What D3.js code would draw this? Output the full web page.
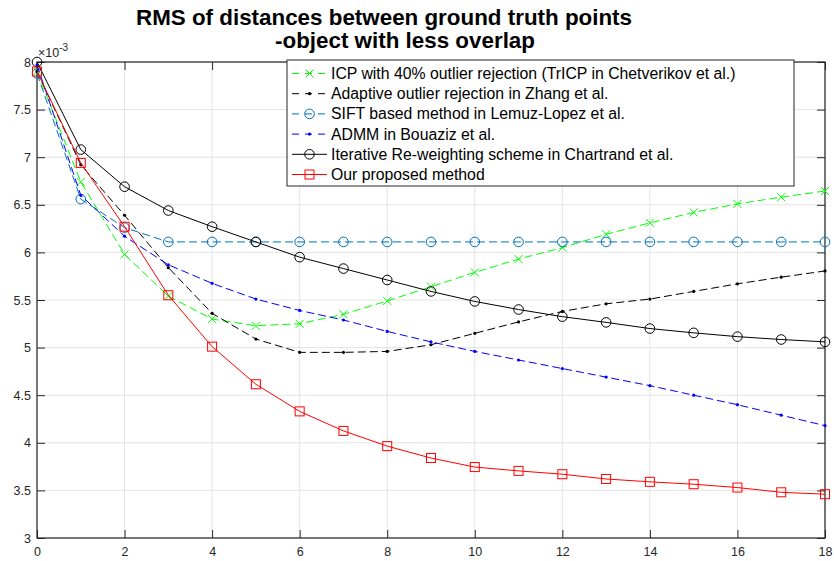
<!DOCTYPE html>
<html>
<head>
<meta charset="utf-8">
<script src="https://cdn.jsdelivr.net/npm/d3@7"></script>
<style>
  html, body { margin: 0; padding: 0; background: #fff; }
  svg { display: block; }
  text { font-family: "Liberation Sans", Arial, Helvetica, sans-serif; }
</style>
</head>
<body>
<svg id="chart" width="834" height="561"></svg>
<script>
// Iteration index on the x axis
const iterations = d3.range(0, 19);

// RMS values (×10^-3) per iteration for each method
const icpTrimmed   = [7.90, 6.74, 5.98, 5.54, 5.30, 5.23, 5.25, 5.35, 5.49, 5.64, 5.79, 5.93, 6.05, 6.19, 6.31, 6.42, 6.51, 6.58, 6.645];
const zhangAdaptive = [7.90, 6.92, 6.39, 5.84, 5.36, 5.09, 4.95, 4.95, 4.96, 5.03, 5.15, 5.27, 5.38, 5.46, 5.51, 5.59, 5.67, 5.74, 5.805];
const siftLemuz    = [7.88, 6.56, 6.26, 6.11, 6.11, 6.11, 6.11, 6.11, 6.11, 6.11, 6.11, 6.11, 6.11, 6.11, 6.11, 6.11, 6.11, 6.11, 6.11];
const admmBouaziz  = [7.97, 6.60, 6.17, 5.87, 5.675, 5.51, 5.39, 5.29, 5.17, 5.06, 4.96, 4.87, 4.78, 4.69, 4.60, 4.50, 4.40, 4.29, 4.18];
const irlsChartrand = [8.00, 7.08, 6.69, 6.44, 6.27, 6.11, 5.95, 5.83, 5.71, 5.59, 5.485, 5.40, 5.325, 5.265, 5.20, 5.155, 5.115, 5.085, 5.06];
const proposed     = [7.90, 6.94, 6.27, 5.55, 5.01, 4.615, 4.33, 4.125, 3.965, 3.84, 3.745, 3.705, 3.67, 3.62, 3.59, 3.565, 3.53, 3.48, 3.46];

const seriesNames = [
  "ICP with 40% outlier rejection (TrICP in Chetverikov et al.)",
  "Adaptive outlier rejection in Zhang et al.",
  "SIFT based method in Lemuz-Lopez et al.",
  "ADMM in Bouaziz et al.",
  "Iterative Re-weighting scheme in Chartrand et al.",
  "Our proposed method"
];

const xTicks = [0, 2, 4, 6, 8, 10, 12, 14, 16, 18];
const yTicks = [3, 3.5, 4, 4.5, 5, 5.5, 6, 6.5, 7, 7.5, 8];

const series = [
  { name: seriesNames[0], values: icpTrimmed,    color: "#00ff00", dash: "8,4", marker: "x" },
  { name: seriesNames[1], values: zhangAdaptive, color: "#000000", dash: "8,4", marker: "dot" },
  { name: seriesNames[2], values: siftLemuz,     color: "#0072bd", dash: "8,4", marker: "circle" },
  { name: seriesNames[3], values: admmBouaziz,   color: "#0000ff", dash: "8,4", marker: "dot" },
  { name: seriesNames[4], values: irlsChartrand, color: "#000000", dash: null,  marker: "circle" },
  { name: seriesNames[5], values: proposed,      color: "#ff0000", dash: null,  marker: "square" }
];

const svg = d3.select("#chart");
const plot = { left: 37, right: 825, top: 62, bottom: 538 };

const x = d3.scaleLinear().domain([0, 18]).range([plot.left, plot.right]);
const y = d3.scaleLinear().domain([3, 8]).range([plot.bottom, plot.top]);

const axisColor = "#262626";
const gridColor = "#e3e3e3";

// grid
const grid = svg.append("g");
grid.selectAll("line.gx").data(xTicks).join("line")
  .attr("x1", d => x(d)).attr("x2", d => x(d))
  .attr("y1", plot.top).attr("y2", plot.bottom)
  .attr("stroke", gridColor).attr("stroke-width", 1);
grid.selectAll("line.gy").data(yTicks).join("line")
  .attr("y1", d => y(d)).attr("y2", d => y(d))
  .attr("x1", plot.left).attr("x2", plot.right)
  .attr("stroke", gridColor).attr("stroke-width", 1);

// axes (ticks point inward, box on all four sides)
const tickLen = 8;
const bottomAxis = d3.axisBottom(x).tickValues(xTicks).tickSize(-tickLen).tickPadding(9).tickFormat(d3.format("d"));
const topAxis = d3.axisTop(x).tickValues(xTicks).tickSize(-tickLen).tickFormat("");
const leftAxis = d3.axisLeft(y).tickValues(yTicks).tickSize(-tickLen).tickPadding(6)
  .tickFormat(d => Number.isInteger(d) ? d3.format("d")(d) : d3.format(".1f")(d));
const rightAxis = d3.axisRight(y).tickValues(yTicks).tickSize(-tickLen).tickFormat("");

function styleAxis(g) {
  g.selectAll("path.domain").remove();
  g.selectAll(".tick line").attr("stroke", axisColor).attr("stroke-width", 1);
  g.selectAll(".tick text").attr("fill", axisColor).attr("font-size", 12.5)
    .attr("font-family", "'Liberation Sans', Arial, sans-serif");
}

svg.append("g").attr("transform", `translate(0,${plot.bottom})`).call(bottomAxis).call(styleAxis);
svg.append("g").attr("transform", `translate(0,${plot.top})`).call(topAxis).call(styleAxis);
svg.append("g").attr("transform", `translate(${plot.left},0)`).call(leftAxis).call(styleAxis);
svg.append("g").attr("transform", `translate(${plot.right},0)`).call(rightAxis).call(styleAxis);
svg.append("rect")
  .attr("x", plot.left).attr("y", plot.top)
  .attr("width", plot.right - plot.left).attr("height", plot.bottom - plot.top)
  .attr("fill", "none").attr("stroke", axisColor).attr("stroke-width", 1.2);

// exponent label
const expo = svg.append("text").attr("x", plot.left + 1).attr("y", plot.top - 5)
  .attr("fill", axisColor).attr("font-size", 12.5);
expo.append("tspan").text("×10");
expo.append("tspan").attr("dy", -6).attr("font-size", 10).text("-3");

// marker drawing
function drawMarker(g, type, color, cx, cy) {
  if (type === "x") {
    const s = 4;
    g.append("path")
      .attr("d", `M${cx - s},${cy - s}L${cx + s},${cy + s}M${cx - s},${cy + s}L${cx + s},${cy - s}`)
      .attr("stroke", color).attr("stroke-width", 1).attr("fill", "none");
  } else if (type === "circle") {
    g.append("circle").attr("cx", cx).attr("cy", cy).attr("r", 4.8)
      .attr("stroke", color).attr("stroke-width", 1).attr("fill", "none");
  } else if (type === "square") {
    g.append("rect").attr("x", cx - 4.5).attr("y", cy - 4.5).attr("width", 9).attr("height", 9)
      .attr("stroke", color).attr("stroke-width", 1).attr("fill", "none");
  } else if (type === "dot") {
    g.append("circle").attr("cx", cx).attr("cy", cy).attr("r", 1.6).attr("fill", color);
  }
}

const line = d3.line().x((d, i) => x(iterations[i])).y(d => y(d));

const lines = svg.append("g");
series.forEach(s => {
  const g = lines.append("g");
  g.append("path").datum(s.values)
    .attr("d", line)
    .attr("fill", "none")
    .attr("stroke", s.color)
    .attr("stroke-width", 1)
    .attr("stroke-dasharray", s.dash);
  s.values.forEach((v, i) => drawMarker(g, s.marker, s.color, x(iterations[i]), y(v)));
});

// legend
const legend = { x: 287, y: 60, w: 507, h: 126, rowH: 20.2, first: 73.5 };
const lg = svg.append("g");
lg.append("rect").attr("x", legend.x).attr("y", legend.y).attr("width", legend.w).attr("height", legend.h)
  .attr("fill", "#fff").attr("stroke", axisColor).attr("stroke-width", 1);
series.forEach((s, i) => {
  const cy = legend.first + i * legend.rowH;
  const row = lg.append("g");
  row.append("line").attr("x1", 292).attr("x2", 327).attr("y1", cy).attr("y2", cy)
    .attr("stroke", s.color).attr("stroke-width", 1)
    .attr("stroke-dasharray", s.dash ? "7,6" : null);
  drawMarker(row, s.marker, s.color, 309.5, cy);
  row.append("text").attr("x", 331).attr("y", cy + 5.5).attr("font-size", 15.8)
    .attr("fill", "#000").text(s.name);
});

// title
const title = svg.append("text").attr("text-anchor", "middle")
  .attr("font-family", "'Liberation Sans', Arial, sans-serif")
  .attr("font-weight", "bold").attr("font-size", 21.5).attr("fill", "#000");
title.append("tspan").attr("x", 384).attr("y", 25)
  .attr("textLength", 496).attr("lengthAdjust", "spacingAndGlyphs")
  .text("RMS of distances between ground truth points");
title.append("tspan").attr("x", 405).attr("y", 48)
  .attr("textLength", 260).attr("lengthAdjust", "spacingAndGlyphs")
  .text("-object with less overlap");
</script>
</body>
</html>
